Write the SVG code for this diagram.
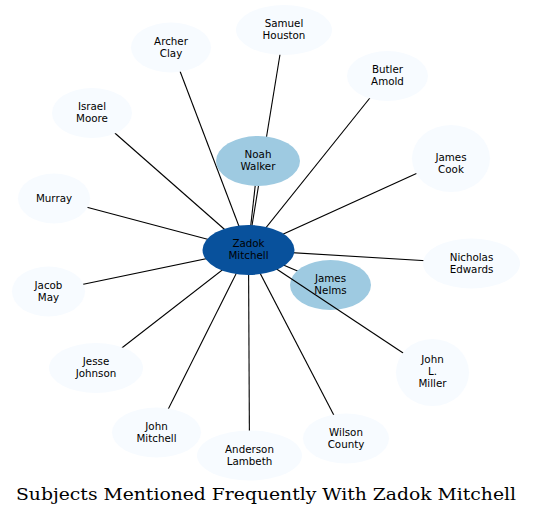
<svg xmlns="http://www.w3.org/2000/svg" width="533" height="516" viewBox="0 0 533 516">
<style>
.e{stroke:#000;stroke-width:1.1;fill:none}
.o{fill:#f7fbff}
.m{fill:#9ecae1}
.c{fill:#08519c}
text{font-family:"DejaVu Sans",sans-serif;font-size:10.3px;fill:#000;text-anchor:middle}
.t{font-family:"DejaVu Serif",serif;font-size:17.5px;text-anchor:start}
</style>
<rect width="533" height="516" fill="#fff"/>
<g id="edges">
<line class="e" x1="248" y1="250" x2="284" y2="30"/>
<line class="e" x1="248" y1="250" x2="171" y2="47.5"/>
<line class="e" x1="248" y1="250" x2="387.5" y2="76"/>
<line class="e" x1="248" y1="250" x2="92" y2="113"/>
<line class="e" x1="248" y1="250" x2="450.5" y2="158"/>
<line class="e" x1="248" y1="250" x2="54" y2="198.5"/>
<line class="e" x1="248" y1="250" x2="471.5" y2="263.5"/>
<line class="e" x1="248" y1="250" x2="48.5" y2="291.5"/>
<line class="e" x1="248" y1="250" x2="96" y2="368"/>
<line class="e" x1="248" y1="250" x2="156.5" y2="432.5"/>
<line class="e" x1="248.5" y1="250" x2="249.5" y2="455.5"/>
<line class="e" x1="248" y1="250" x2="346" y2="438.5"/>
<line class="e" x1="248" y1="250" x2="258" y2="161"/>
<line class="e" x1="248" y1="250" x2="330.5" y2="285"/>
</g>
<g id="noah-walker"><ellipse class="m" cx="258" cy="161" rx="42" ry="25"/><text x="258" y="158">Noah</text><text x="258" y="170">Walker</text></g>
<g id="james-nelms"><ellipse class="m" cx="330.5" cy="285" rx="40.5" ry="25"/><text x="330.5" y="282">James</text><text x="330.5" y="294">Nelms</text></g>
<g id="edges-2"><line class="e" x1="248" y1="250" x2="432.5" y2="372.5"/></g>
<g id="samuel-houston"><ellipse class="o" cx="284" cy="30" rx="48" ry="25"/><text x="284" y="27">Samuel</text><text x="284" y="39">Houston</text></g>
<g id="archer-clay"><ellipse class="o" cx="171" cy="47.5" rx="40" ry="25"/><text x="171" y="44.5">Archer</text><text x="171" y="56.5">Clay</text></g>
<g id="butler-amold"><ellipse class="o" cx="387.5" cy="76" rx="40.5" ry="25"/><text x="387.5" y="73">Butler</text><text x="387.5" y="85">Amold</text></g>
<g id="israel-moore"><ellipse class="o" cx="92" cy="113" rx="40" ry="25"/><text x="92" y="110">Israel</text><text x="92" y="122">Moore</text></g>
<g id="james-cook"><ellipse class="o" cx="451" cy="158.5" rx="39" ry="33.5"/><text x="451" y="160.5">James</text><text x="451" y="172.5">Cook</text></g>
<g id="murray"><ellipse class="o" cx="54" cy="198.5" rx="36" ry="25"/><text x="54" y="202">Murray</text></g>
<g id="nicholas-edwards"><ellipse class="o" cx="471.5" cy="263.5" rx="48.5" ry="25"/><text x="471.5" y="260.5">Nicholas</text><text x="471.5" y="272.5">Edwards</text></g>
<g id="jacob-may"><ellipse class="o" cx="48.5" cy="291.5" rx="36.5" ry="25"/><text x="48.5" y="288.5">Jacob</text><text x="48.5" y="300.5">May</text></g>
<g id="john-l-miller"><ellipse class="o" cx="432.5" cy="372.5" rx="36.5" ry="33.5"/><text x="432.5" y="363">John</text><text x="432.5" y="375">L.</text><text x="432.5" y="387">Miller</text></g>
<g id="jesse-johnson"><ellipse class="o" cx="96" cy="368" rx="47" ry="25"/><text x="96" y="365">Jesse</text><text x="96" y="377">Johnson</text></g>
<g id="john-mitchell"><ellipse class="o" cx="156.5" cy="432.5" rx="44.5" ry="25"/><text x="156.5" y="429.5">John</text><text x="156.5" y="441.5">Mitchell</text></g>
<g id="anderson-lambeth"><ellipse class="o" cx="249.5" cy="455.5" rx="52.5" ry="25"/><text x="249.5" y="452.5">Anderson</text><text x="249.5" y="464.5">Lambeth</text></g>
<g id="wilson-county"><ellipse class="o" cx="346" cy="438.5" rx="43" ry="25"/><text x="346" y="435.5">Wilson</text><text x="346" y="447.5">County</text></g>
<g id="zadok-mitchell"><ellipse class="c" cx="248.5" cy="250" rx="46" ry="25"/><text x="248.5" y="247">Zadok</text><text x="248.5" y="259">Mitchell</text></g>
<text class="t" x="16" y="500" textLength="500" lengthAdjust="spacingAndGlyphs">Subjects Mentioned Frequently With Zadok Mitchell</text>
</svg>
